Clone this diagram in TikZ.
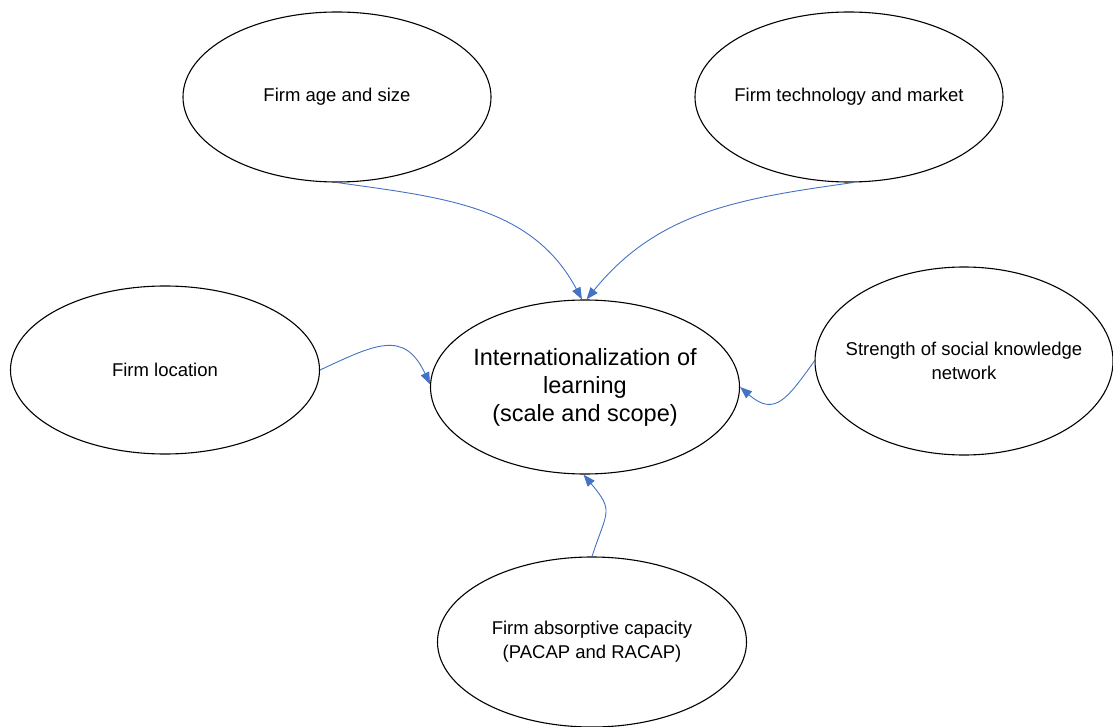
\documentclass[tikz,border=0pt]{standalone}
\usepackage{fontspec}
\setmainfont{Liberation Sans}
\usetikzlibrary{shapes.geometric,arrows.meta}
\definecolor{arrowblue}{RGB}{68,114,196}
\begin{document}
\begin{tikzpicture}[x=1pt,y=1pt,
  bubble/.style={draw=black,line width=1.1pt,ellipse,inner xsep=-60pt,inner ysep=0pt,align=center,
    font=\fontsize{18.5}{24}\selectfont},
  link/.style={draw=arrowblue,line width=0.9pt,-{Triangle[length=12pt,width=9pt]}}]
\useasboundingbox (0,0) rectangle (1113,-727);
\clip (0,0) rectangle (1113,-727);
\node[bubble,minimum width=308,minimum height=170] (age) at (337,-97) {Firm age and size};
\node[bubble,minimum width=308,minimum height=170] (tech) at (849,-97) {Firm technology and market};
\node[bubble,minimum width=309,minimum height=168] (loc) at (165,-370) {Firm location};
\node[bubble,minimum width=309,minimum height=174,font=\fontsize{23.5}{28}\selectfont] (c) at (585,-387) {Internationalization of\\learning\\(scale and scope)};
\node[bubble,minimum width=298,minimum height=188] (str) at (964,-361) {Strength of social knowledge\\network};
\node[bubble,minimum width=309,minimum height=170] (abs) at (592,-642) {Firm absorptive capacity\\(PACAP and RACAP)};
\draw[link] (age.south) to[out=-8,in=118] (c.92);
\draw[link] (tech.-87) to[out=-172,in=51] (c.89);
\draw[link] (loc.east) to[out=25,in=115,looseness=1.4] (c.179);
\draw[link] (str.west) to[out=-126,in=-41,looseness=1.5] (c.east);
\draw[link] (abs.north) to[out=72,in=-50,looseness=1.5] (c.269);
\end{tikzpicture}
\end{document}
